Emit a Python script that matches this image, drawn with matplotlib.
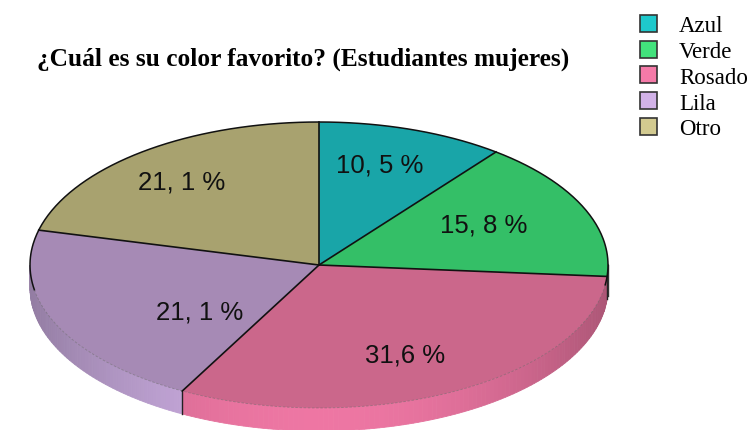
import numpy as np
import matplotlib
matplotlib.use("Agg")
import matplotlib.pyplot as plt
from matplotlib.patches import Polygon, Patch
from matplotlib.colors import to_rgb

# ---- data ----
categories = ["Azul", "Verde", "Rosado", "Lila", "Otro"]
values = [10.5, 15.8, 31.6, 21.1, 21.1]
value_labels = ["10, 5 %", "15, 8 %", "31,6 %", "21, 1 %", "21, 1 %"]
title = "¿Cuál es su color favorito? (Estudiantes mujeres)"

# ---- styles / layout ----
top_colors = ["#19a5a8", "#34bf67", "#cb678b", "#a68ab5", "#a8a26f"]
legend_colors = ["#1ec9cc", "#42e27c", "#f57aa8", "#d2b2e8", "#d2ca90"]
cx, cy, rx, ry, depth = 319, 266, 289, 143, 23
label_pos = [(380, 166), (484, 226), (405, 356), (200, 313), (182, 183)]

fig = plt.figure(figsize=(7.54, 4.31), dpi=100)
ax = fig.add_axes([0, 0, 1, 1])
ax.set_xlim(0, 754)
ax.set_ylim(431, 0)
ax.axis("off")

total = float(sum(values))
bounds = 90 - 360 * np.concatenate([[0], np.cumsum(values)]) / total


def pt(t):
    r = np.deg2rad(t)
    return cx + rx * np.cos(r), cy - ry * np.sin(r)


# side faces (front half only)
for i, (c, lc) in enumerate(zip(top_colors, legend_colors)):
    t1, t2 = bounds[i], bounds[i + 1]
    n = max(int(abs(t1 - t2) / 1.0), 2)
    ts = np.linspace(t1, t2, n + 1)
    base = np.array(to_rgb(lc))
    for a, b in zip(ts[:-1], ts[1:]):
        m = np.deg2rad((a + b) / 2)
        if np.sin(m) >= 0:
            continue
        f = 0.70 + 0.27 * (np.sin(m)) ** 2
        col = np.clip(base * f, 0, 1)
        xa, ya = pt(a)
        xb, yb = pt(b)
        ax.add_patch(Polygon([(xa, ya), (xb, yb), (xb, yb + depth), (xa, ya + depth)],
                             closed=True, facecolor=col, edgecolor=col, lw=0.6, zorder=1))

# vertical boundary lines on the side
for t in bounds[1:-1]:
    if np.sin(np.deg2rad(t)) < 0:
        x, y = pt(t)
        ax.plot([x, x], [y, y + depth], color="#222222", lw=1.0, zorder=2)
xr, yr = pt(0.0)
ax.plot([xr, xr], [yr, yr + depth + 8], color="#333333", lw=1.0, zorder=2)

# top faces
for i, c in enumerate(top_colors):
    t1, t2 = bounds[i], bounds[i + 1]
    ts = np.linspace(t1, t2, 200)
    xs, ys = pt(ts)
    verts = [(cx, cy)] + list(zip(xs, ys))
    ax.add_patch(Polygon(verts, closed=True, facecolor=c, edgecolor="none", zorder=3))

# outline: upper arc black, lower arc faint dashed
tu = np.linspace(-8, 190, 300)
xu, yu = pt(tu)
ax.plot(xu, yu, color="#111111", lw=1.1, zorder=4)
tl = np.linspace(190, 352, 300)
xl, yl = pt(tl)
ax.plot(xl, yl, color="#666666", lw=0.6, ls=(0, (3, 2)), zorder=4, alpha=0.5)
# radial lines
for t in bounds[:-1]:
    x, y = pt(t)
    ax.plot([cx, x], [cy, y], color="#111111", lw=1.2, zorder=5)

# value labels
for (x, y), s in zip(label_pos, value_labels):
    ax.text(x, y, s, ha="center", va="center", fontsize=18.5,
            family="Liberation Sans", color="#111111", zorder=6)

# title
fig.text(37 / 754, 1 - 59 / 431, title, ha="left", va="center",
         fontsize=18.3, fontweight="bold", family="Liberation Serif")

# legend
handles = [Patch(facecolor=c, edgecolor="#333333", lw=1.2) for c in legend_colors]
leg = fig.legend(handles, categories, loc="upper left",
                 bbox_to_anchor=(640 / 754, 1 - 16 / 431), frameon=False,
                 prop={"family": "Liberation Serif", "size": 16.5},
                 handlelength=0.75, handleheight=0.75, handletextpad=0.95,
                 labelspacing=0.19, borderaxespad=0, borderpad=0)

fig.savefig("out.png", dpi=100)
